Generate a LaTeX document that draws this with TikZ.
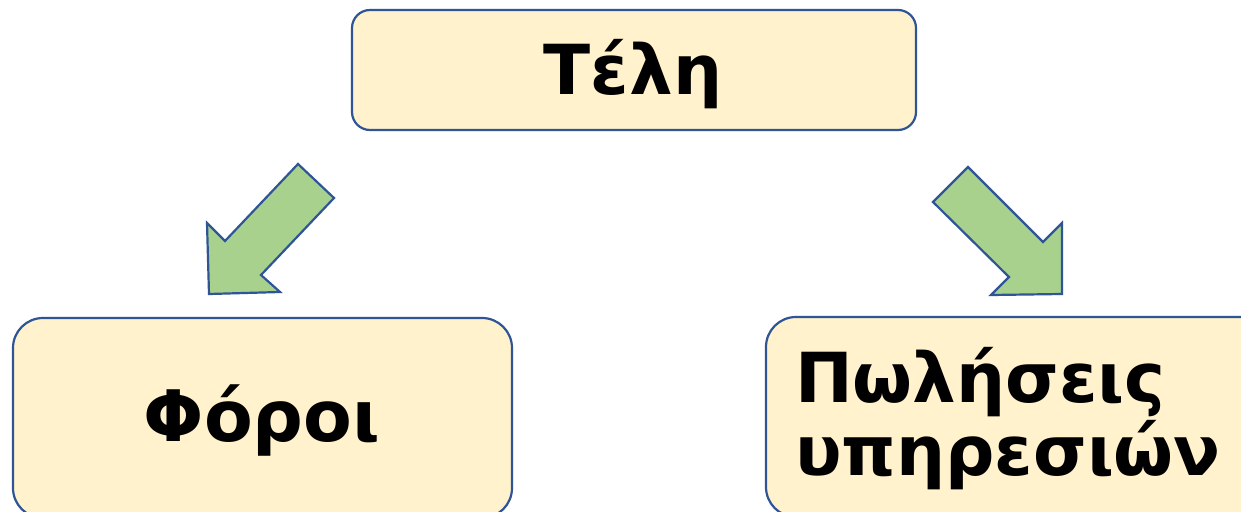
\documentclass[tikz,border=0pt]{standalone}
\usepackage{fontspec}
\setmainfont{DejaVu Sans}
\definecolor{boxfill}{HTML}{FFF2CC}
\definecolor{edge}{HTML}{2F5597}
\definecolor{arrfill}{HTML}{A9D18E}
\begin{document}
\begin{tikzpicture}[x=1pt,y=-1pt,
  box/.style={draw=edge,fill=boxfill,line width=2.2pt,rounded corners=#1,inner sep=0pt},
  box/.default=18pt,
  blockarrow/.style={draw=edge,fill=arrfill,line width=2.2pt,line join=miter},
  lbl/.style={anchor=base west,inner sep=0pt,font=\bfseries}]
\useasboundingbox (0,0) rectangle (1241,511);
\clip (0,0) rectangle (1241,511);
\fill[white] (0,0) rectangle (1241,511);
% boxes
\node[box=18pt,minimum width=564pt,minimum height=120pt] (top) at (634,70) {};
\node[box=30pt,minimum width=499pt,minimum height=200pt] (left) at (262.5,418) {};
\node[box=30pt,minimum width=520pt,minimum height=200pt] (right) at (1026,417) {};
% texts
\node[lbl,anchor=base,font=\bfseries\fontsize{69}{69}\selectfont] (ttop) at (633,94) {Τέλη};
\node[lbl,anchor=base,font=\bfseries\fontsize{71}{71}\selectfont] (tleft) at (262,441) {Φόροι};
\node[lbl,font=\bfseries\fontsize{69}{69}\selectfont] (tr1) at (795,402) {Πωλήσεις};
\node[lbl,font=\bfseries\fontsize{69}{69}\selectfont] (tr2) at (795,475) {υπηρεσιών};
% block arrows
\draw[blockarrow] (298,164) -- (334,198) -- (261,275) -- (280,292) -- (209,294) -- (207,223) -- (225,241) -- cycle;
\draw[blockarrow] (968,167) -- (933,202) -- (1009,277) -- (991,295) -- (1062,294) -- (1062,223) -- (1043,242) -- cycle;
\end{tikzpicture}
\end{document}
